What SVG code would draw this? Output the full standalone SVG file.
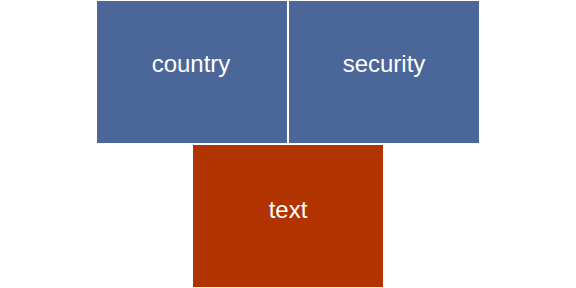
<svg xmlns="http://www.w3.org/2000/svg" width="576" height="288" viewBox="0 0 576 288">
  <style>
    .blue { fill: #4b6698; }
    .red { fill: #b13400; }
    .label { fill: #ffffff; font-family: "Liberation Sans", Arial, sans-serif; font-size: 24px; text-anchor: middle; }
  </style>
  <rect width="576" height="288" fill="#ffffff"/>
  <g id="country">
    <rect class="blue" x="97" y="1" width="190" height="142"/>
    <text class="label" x="191" y="72">country</text>
  </g>
  <g id="security">
    <rect class="blue" x="289" y="1" width="190" height="142"/>
    <text class="label" x="384" y="72">security</text>
  </g>
  <g id="text">
    <rect class="red" x="193" y="145" width="190" height="142"/>
    <text class="label" x="288" y="218">text</text>
  </g>
  <g id="connectors"></g>
</svg>
